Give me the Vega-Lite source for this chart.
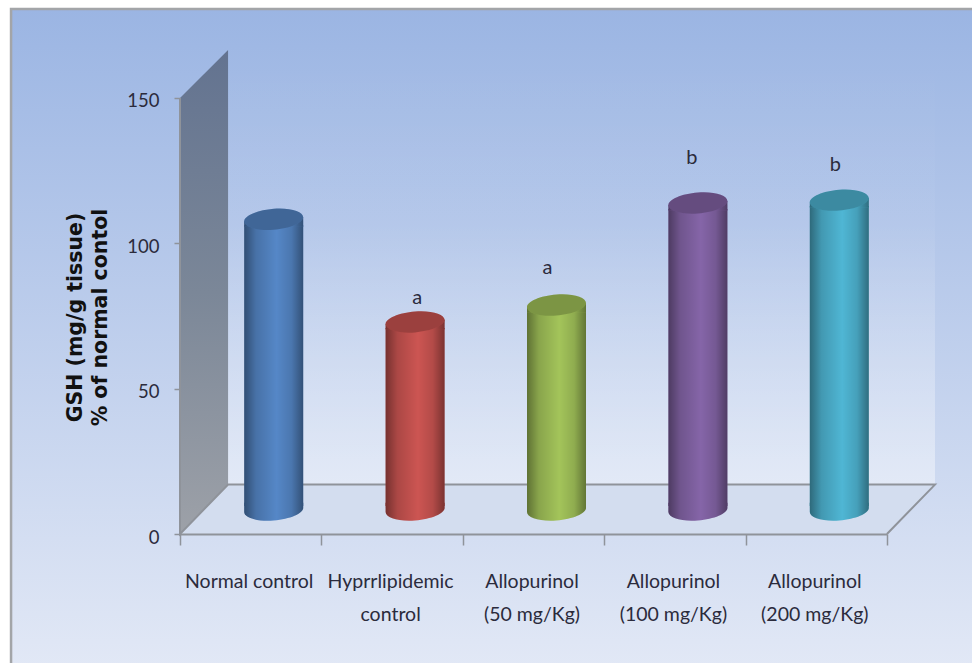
{
"$schema":"https://vega.github.io/schema/vega-lite/v6.json",
"width":755,"height":484,"autosize":{"type":"none"},
"padding":{"left":180,"top":50,"right":37,"bottom":129},
"background":"#ffffff",
"config":{"view":{"stroke":null}},
"datasets":{
"bars":[
{"group":"Normal control","value":100,"note":"","noteLevel":null},
{"group":"Hyprrlipidemic|control","value":64.7,"note":"a","noteLevel":81.2},
{"group":"Allopurinol|(50 mg/Kg)","value":70.5,"note":"a","noteLevel":91.5},
{"group":"Allopurinol|(100 mg/Kg)","value":105.6,"note":"b","noteLevel":129.3},
{"group":"Allopurinol|(200 mg/Kg)","value":106.6,"note":"b","noteLevel":127}
],
"frame":[{"x0":-1.195,"x1":5.7,"y0":-50,"y1":180.6}],
"wall":[{"x0":0.34,"x1":5.34,"y0":17,"y1":166.5}],
"side":[{"x":0,"lo":0,"hi":150},{"x":0.34,"lo":17,"hi":166.5}],
"floor":[{"x":0,"lo":0,"hi":0},{"x":0.34,"lo":0,"hi":17},{"x":5,"lo":0,"hi":17},{"x":5.34,"lo":17,"hi":17}],
"edge":[{"step":1,"x":0,"y":150},{"step":2,"x":0,"y":0},{"step":3,"x":0.34,"y":17},{"step":4,"x":5.34,"y":17},{"step":5,"x":5,"y":0}]
},
"encoding":{"y":{"type":"quantitative","scale":{"domain":[0,166.5],"nice":false,"zero":false}}},
"layer":[
{"encoding":{"x":{"type":"quantitative","axis":null,"scale":{"domain":[0,5.34],"nice":false,"zero":false}}},
"layer":[
{"data":{"name":"frame"},"mark":{"type":"rect","clip":false,"stroke":"#a3a5a8","strokeWidth":2.5,"fill":{"gradient":"linear","x1":0,"y1":0,"x2":0,"y2":1,"stops":[{"offset":0,"color":"#9bb5e3"},{"offset":1,"color":"#e3e9f6"}]}},
"encoding":{"x":{"field":"x0"},"x2":{"field":"x1"},"y":{"field":"y0"},"y2":{"field":"y1"}}},
{"data":{"name":"wall"},"mark":{"type":"rect","fill":{"gradient":"linear","x1":0,"y1":0,"x2":0,"y2":1,"stops":[{"offset":0,"color":"rgba(255,255,255,0)"},{"offset":0.4,"color":"rgba(255,255,255,0.04)"},{"offset":1,"color":"rgba(255,255,255,0.42)"}]}},
"encoding":{"x":{"field":"x0"},"x2":{"field":"x1"},"y":{"field":"y0"},"y2":{"field":"y1"}}},
{"data":{"name":"floor"},"mark":{"type":"area","fill":"#d3ddef","opacity":1},
"encoding":{"x":{"field":"x"},"y":{"field":"lo"},"y2":{"field":"hi"}}},
{"data":{"name":"side"},"mark":{"type":"area","opacity":1,"fill":{"gradient":"linear","x1":0,"y1":0,"x2":0,"y2":1,"stops":[{"offset":0,"color":"#637390"},{"offset":0.5,"color":"#7b8798"},{"offset":1,"color":"#9da1a8"}]}},
"encoding":{"x":{"field":"x"},"y":{"field":"lo"},"y2":{"field":"hi"}}},
{"data":{"name":"edge"},"mark":{"type":"line","color":"#8f939a","strokeWidth":2},
"encoding":{"x":{"field":"x"},"y":{"field":"y"},"order":{"field":"step"}}}
]},
{"data":{"name":"bars"},
"encoding":{"x":{"field":"group","type":"nominal","sort":null,"title":null,
"scale":{"type":"band","range":[0,707],"paddingInner":0,"paddingOuter":0},
"axis":{"zindex":1,"labelAngle":0,"tickBand":"extent","tickSize":11,"tickColor":"#8f939a","tickWidth":1.5,"domainColor":"#8f939a","domainWidth":2,"labelFont":"Lato","labelFontSize":19.5,"labelColor":"#2b2b3c","labelPadding":27,"labelLimit":0,"labelLineHeight":33,"labelOffset":-2,"labelExpr":"split(datum.label,'|')","labelOverlap":false}}},
"layer":[
{"mark":{"type":"point","filled":true,"opacity":1,"size":3481,"xOffset":23,"yOffset":-24,"stroke":null,"shape":"M-1,-0.25L1,-0.25L1,-0.07C1,0.12,0.552,0.31,0,0.355C-0.552,0.4,-1,0.26,-1,0.07Z"},
"encoding":{"y":{"datum":0},"color":{"field":"group","type":"nominal","sort":null,"legend":null,"scale":{"range":["#5587c7","#cc5552","#a3c45a","#8565a8","#4fb6d4"]}}}},
{"mark":{"type":"point","filled":true,"opacity":1,"size":3481,"xOffset":23,"yOffset":-24,"stroke":null,"shape":"M-1,-0.25L1,-0.25L1,-0.07C1,0.12,0.552,0.31,0,0.355C-0.552,0.4,-1,0.26,-1,0.07Z","fill":{"gradient":"linear","x1":0,"y1":0,"x2":1,"y2":0,"stops":[{"offset":0,"color":"rgba(0,0,0,0.42)"},{"offset":0.2,"color":"rgba(0,0,0,0.16)"},{"offset":0.55,"color":"rgba(0,0,0,0)"},{"offset":0.8,"color":"rgba(0,0,0,0.12)"},{"offset":1,"color":"rgba(0,0,0,0.4)"}]}},
"encoding":{"y":{"datum":0}}},
{"mark":{"type":"bar","size":59,"xOffset":23,"yOffset":-18,"y2Offset":-28},
"encoding":{"y":{"field":"value","type":"quantitative"},"y2":{"datum":0},"color":{"field":"group","type":"nominal","sort":null,"legend":null}}},
{"mark":{"type":"bar","size":59,"xOffset":23,"yOffset":-18,"y2Offset":-28,"fill":{"gradient":"linear","x1":0,"y1":0,"x2":1,"y2":0,"stops":[{"offset":0,"color":"rgba(0,0,0,0.42)"},{"offset":0.2,"color":"rgba(0,0,0,0.16)"},{"offset":0.55,"color":"rgba(0,0,0,0)"},{"offset":0.8,"color":"rgba(0,0,0,0.12)"},{"offset":1,"color":"rgba(0,0,0,0.4)"}]}},
"encoding":{"y":{"field":"value","type":"quantitative"},"y2":{"datum":0}}},
{"mark":{"type":"point","filled":true,"opacity":1,"size":3481,"xOffset":23,"yOffset":-24,"stroke":null,"shape":"M1,-0.07L1,0.25L-1,0.25L-1,0.07Z"},
"encoding":{"y":{"field":"value","type":"quantitative"},"color":{"field":"group","type":"nominal","sort":null,"legend":null}}},
{"mark":{"type":"point","filled":true,"opacity":1,"size":3481,"xOffset":23,"yOffset":-24,"stroke":null,"shape":"M1,-0.07L1,0.25L-1,0.25L-1,0.07Z","fill":{"gradient":"linear","x1":0,"y1":0,"x2":1,"y2":0,"stops":[{"offset":0,"color":"rgba(0,0,0,0.42)"},{"offset":0.2,"color":"rgba(0,0,0,0.16)"},{"offset":0.55,"color":"rgba(0,0,0,0)"},{"offset":0.8,"color":"rgba(0,0,0,0.12)"},{"offset":1,"color":"rgba(0,0,0,0.4)"}]}},
"encoding":{"y":{"field":"value","type":"quantitative"}}},
{"mark":{"type":"point","filled":true,"opacity":1,"size":3481,"xOffset":23,"yOffset":-24,"stroke":null,"shape":"M1,-0.07C1,-0.26,0.552,-0.4,0,-0.355C-0.552,-0.31,-1,-0.12,-1,0.07C-1,0.26,-0.552,0.4,0,0.355C0.552,0.31,1,0.12,1,-0.07Z"},
"encoding":{"y":{"field":"value","type":"quantitative"},"color":{"field":"group","type":"nominal","sort":null,"legend":null}}},
{"mark":{"type":"point","filled":true,"opacity":1,"size":3481,"xOffset":23,"yOffset":-24,"stroke":null,"fill":"rgba(0,0,0,0.24)","shape":"M1,-0.07C1,-0.26,0.552,-0.4,0,-0.355C-0.552,-0.31,-1,-0.12,-1,0.07C-1,0.26,-0.552,0.4,0,0.355C0.552,0.31,1,0.12,1,-0.07Z"},
"encoding":{"y":{"field":"value","type":"quantitative"}}},
{"transform":[{"filter":"datum.group=='Hyprrlipidemic|control'"}],"mark":{"type":"text","font":"Lato","fontSize":20,"color":"#2b2b3c","xOffset":25},"encoding":{"y":{"field":"noteLevel","type":"quantitative"},"text":{"field":"note"}}},
{"transform":[{"filter":"datum.group=='Allopurinol|(50 mg/Kg)'"}],"mark":{"type":"text","font":"Lato","fontSize":20,"color":"#2b2b3c","xOffset":14},"encoding":{"y":{"field":"noteLevel","type":"quantitative"},"text":{"field":"note"}}},
{"transform":[{"filter":"datum.group=='Allopurinol|(100 mg/Kg)'"}],"mark":{"type":"text","font":"Lato","fontSize":20,"color":"#2b2b3c","xOffset":17},"encoding":{"y":{"field":"noteLevel","type":"quantitative"},"text":{"field":"note"}}},
{"transform":[{"filter":"datum.group=='Allopurinol|(200 mg/Kg)'"}],"mark":{"type":"text","font":"Lato","fontSize":20,"color":"#2b2b3c","xOffset":19},"encoding":{"y":{"field":"noteLevel","type":"quantitative"},"text":{"field":"note"}}},
{"mark":{"type":"point","opacity":0,"size":1},
"encoding":{"y":{"field":"value","type":"quantitative","title":["GSH (mg/g tissue)","% of normal contol"],
"axis":{"zindex":1,"values":[0,50,100,150],"domain":false,"grid":false,"tickSize":6,"tickColor":"#8f939a","tickWidth":1.5,"labelFont":"Lato","labelFontSize":18.5,"labelColor":"#2b2b3c","labelPadding":15,"labelOffset":3,"titleFont":"DejaVu Sans","titleFontWeight":"bold","titleFontSize":20.5,"titleColor":"#111111","titleLineHeight":25,"titleX":-95,"titleY":267}}}}
]}
],
"resolve":{"scale":{"x":"independent"},"axis":{"x":"independent"}}
}
